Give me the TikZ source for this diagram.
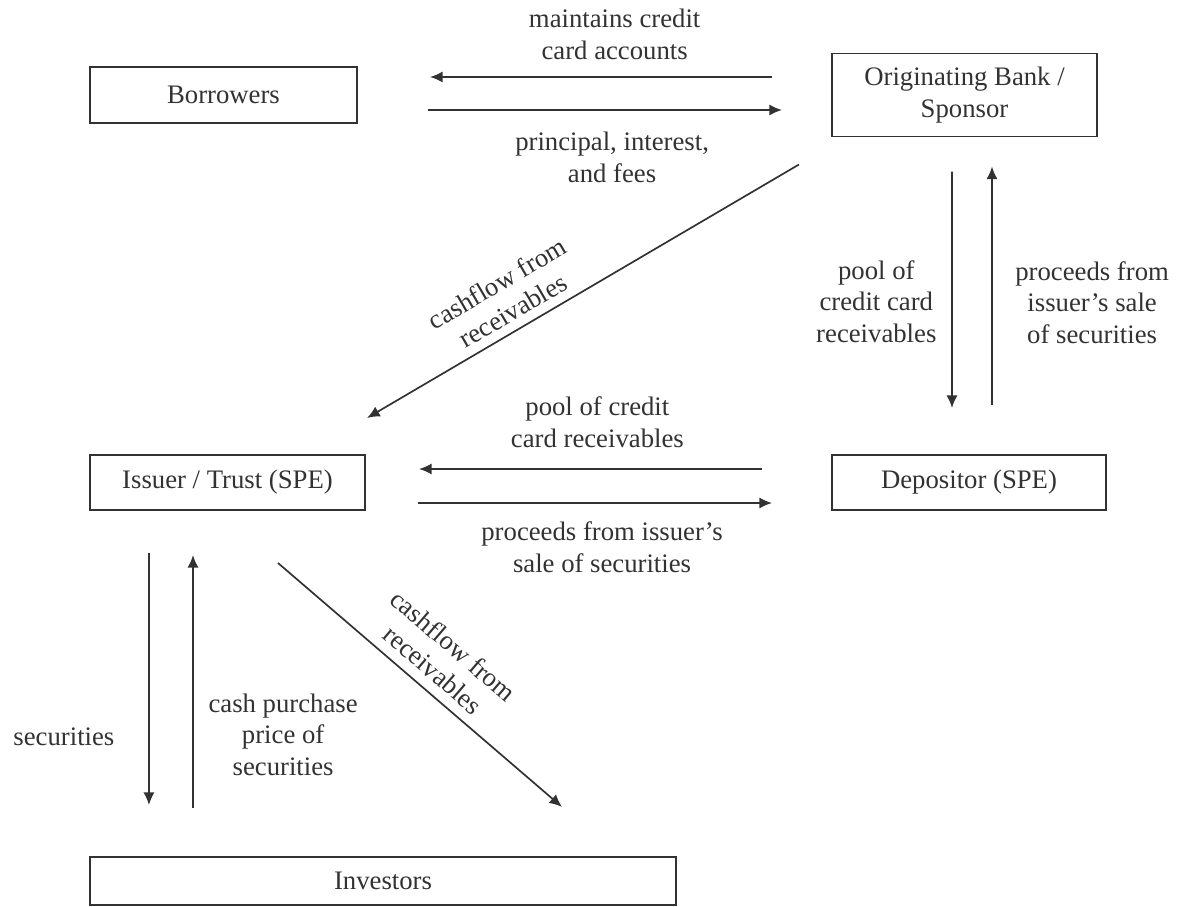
\documentclass[tikz,border=0pt]{standalone}
\usepackage{fontspec}
\setmainfont{Liberation Serif}
\usetikzlibrary{positioning, arrows.meta}
\definecolor{Ink}{RGB}{50,50,50}

\begin{document}
\begin{tikzpicture}[x=0.025cm, y=0.025cm, font=\fontsize{19}{22.5}\selectfont,
    box/.style={draw=Ink, line width=1.2pt, outer sep=0pt, inner sep=0pt, text=Ink, align=center},
    lbl/.style={inner sep=0pt, text=Ink, align=center},
    flow/.style={->, >={Latex[length=9pt, width=8pt]}, line width=1.2pt, draw=Ink}]
      \useasboundingbox (0,0) rectangle (1180,-907);

      \node[box, minimum width=6.675cm, minimum height=1.4cm  ] (borr) at (223.5,  -95  ) {Borrowers};
      \node[box, minimum width=6.625cm, minimum height=2.075cm] (bank) at (964.5,  -95  ) {Originating Bank /\\Sponsor};
      \node[box, minimum width=6.875cm, minimum height=1.375cm] (issu) at (227.5, -482.5) {Issuer / Trust (SPE)};
      \node[box, minimum width=6.85cm,  minimum height=1.375cm] (depo) at (969,   -482.5) {Depositor (SPE)};
      \node[box, minimum width=14.65cm, minimum height=1.2cm  ] (inve) at (383,   -881  ) {Investors};

      \draw[flow] ([shift={(-1.5cm,0.45cm)}]bank.west)          -- ([shift={(1.825cm,0.45cm)}]borr.east)       node [pos=0.46, above=12pt,   lbl] {maintains credit\\card accounts};
      \draw[flow] ([shift={(1.775cm,-0.375cm)}]borr.east)       -- ([shift={(-1.25cm,-0.375cm)}]bank.west)     node [pos=0.52, below=15pt,   lbl] {principal, interest,\\and fees};
      \draw[flow] ([shift={(-0.825cm,-0.7cm)}]bank.south west)  -- ([shift={(0.05cm,0.925cm)}]issu.north east) node [pos=0.64, sloped, above=6pt, lbl] {cashflow from\\receivables};
      \draw[flow] ([shift={(-0.3125cm,-0.875cm)}]bank.south)    -- ([shift={(-0.425cm,1.175cm)}]depo.north)    node [pos=0.55, left=10.5pt,  lbl] {pool of\\credit card\\receivables};
      \draw[flow] ([shift={(0.575cm,1.25cm)}]depo.north)        -- ([shift={(0.6875cm,-0.75cm)}]bank.south)    node [pos=0.43, right=16pt,   lbl] {proceeds from\\issuer's sale\\of securities};
      \draw[flow] ([shift={(-1.75cm,0.3375cm)}]depo.west)       -- ([shift={(1.35cm,0.3375cm)}]issu.east)      node [pos=0.48, above=14.5pt, lbl] {pool of credit\\card receivables};
      \draw[flow] ([shift={(1.325cm,-0.5125cm)}]issu.east)      -- ([shift={(-1.5cm,-0.5125cm)}]depo.west)     node [pos=0.52, below=13pt,   lbl] {proceeds from issuer's\\sale of securities};
      \draw[flow] ([shift={(-1.9625cm,-1.075cm)}]issu.south)    -- ([shift={(-5.85cm,1.3cm)}]inve.north)       node [pos=0.73, left=24pt,    lbl] {securities};
      \draw[flow] ([shift={(-4.75cm,1.225cm)}]inve.north)       -- ([shift={(-0.8625cm,-1.125cm)}]issu.south)  node [pos=0.29, right=10.5pt, lbl] {cash purchase\\price of\\securities};
      \draw[flow] ([shift={(1.2625cm,-1.325cm)}]issu.south)     -- ([shift={(4.475cm,1.25cm)}]inve.north)      node [pos=0.5, sloped, above=7pt, lbl] {cashflow from\\receivables};
    \end{tikzpicture}
\end{document}
